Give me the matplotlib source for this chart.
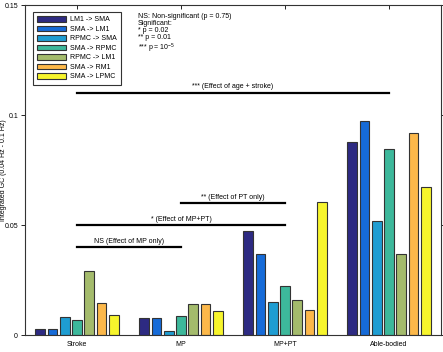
import numpy as np
import matplotlib
matplotlib.use('Agg')
import matplotlib.pyplot as plt

plt.rcParams['font.family'] = ['Liberation Sans', 'DejaVu Sans']
plt.rcParams['mathtext.fontset'] = 'custom'
plt.rcParams['mathtext.rm'] = 'Liberation Sans'

# groups on the x axis
groups = ['Stroke', 'MP', 'MP+PT', 'Able-bodied']

# connections (one bar series each)
connections = ['LM1 -> SMA', 'SMA -> LM1', 'RPMC -> SMA', 'SMA -> RPMC',
               'RPMC -> LM1', 'SMA -> RM1', 'SMA -> LPMC']

# integrated GC, rows = groups, cols = connections
gc_stroke = [0.0029, 0.0028, 0.0085, 0.0068, 0.0290, 0.0147, 0.0091]
gc_mp = [0.0077, 0.0078, 0.0020, 0.0086, 0.0141, 0.0141, 0.0110]
gc_mppt = [0.0475, 0.0368, 0.0153, 0.0223, 0.0159, 0.0114, 0.0605]
gc_able = [0.0877, 0.0973, 0.0521, 0.0848, 0.0368, 0.0918, 0.0673]

# significance brackets: (from group, to group, height, label)
brackets = [
    (1, 2, 0.04, 'NS (Effect of MP only)'),
    (1, 3, 0.05, '* (Effect of MP+PT)'),
    (2, 3, 0.06, '** (Effect of PT only)'),
    (1, 4, 0.11, '*** (Effect of age + stroke)'),
]

colors = ['#2d2a82', '#166bd8', '#1e9dd2', '#3db89b', '#a4bb6c', '#fcb84a', '#f7f52c']

data = np.array([gc_stroke, gc_mp, gc_mppt, gc_able])
x = np.arange(1, len(groups) + 1)

fig = plt.figure(figsize=(4.43, 3.52), dpi=100)
ax = fig.add_axes([25 / 443, 1 - 335.3 / 352, 416 / 443, 330.3 / 352])

fs = 5
pitch = 0.1176
for i, name in enumerate(connections):
    off = (i - 3) * pitch
    ax.bar(x + off, data[:, i], width=0.094, color=colors[i],
           edgecolor='#333333', linewidth=0.8, label=name, zorder=2)

for a, b, h, txt in brackets:
    ax.plot([a, b], [h, h], color='black', linewidth=1.6, zorder=3)
    ax.text((a + b) / 2, h + 0.0012, txt, ha='center', va='bottom', fontsize=fs)

ax.set_xlim(0.5, 4.5)
ax.set_ylim(0, 0.15)
ax.set_xticks(x)
ax.set_xticklabels(groups, fontsize=fs)
ax.set_yticks([0, 0.05, 0.1, 0.15])
ax.set_yticklabels(['0', '0.05', '0.1', '0.15'], fontsize=fs)
ax.tick_params(axis='x', direction='in', top=True, length=3, width=0.6, pad=4)
ax.tick_params(axis='y', direction='out', right=True, length=3, width=0.6, pad=2)
for s in ax.spines.values():
    s.set_linewidth(0.8)
    s.set_color('#333333')

ax.set_ylabel('Integrated GC (0.04 Hz - 0.1 Hz)', fontsize=fs)
ax.yaxis.set_label_coords(-0.044, 0.5)

leg = ax.legend(loc='upper left', bbox_to_anchor=(0.019, 0.979), fontsize=fs,
                handlelength=4.2, handleheight=0.9, labelspacing=0.32,
                handletextpad=0.5, borderpad=0.6, borderaxespad=0,
                fancybox=False, framealpha=1, edgecolor='#333333')
leg.get_frame().set_linewidth(0.8)

ax.text(0.272, 0.975,
        'NS: Non-significant (p = 0.75)\nSignificant:\n* p = 0.02\n** p = 0.01\n*** p = 10$^{-5}$',
        transform=ax.transAxes, ha='left', va='top', fontsize=fs, linespacing=1.0)

fig.savefig('out.png', dpi=100)
